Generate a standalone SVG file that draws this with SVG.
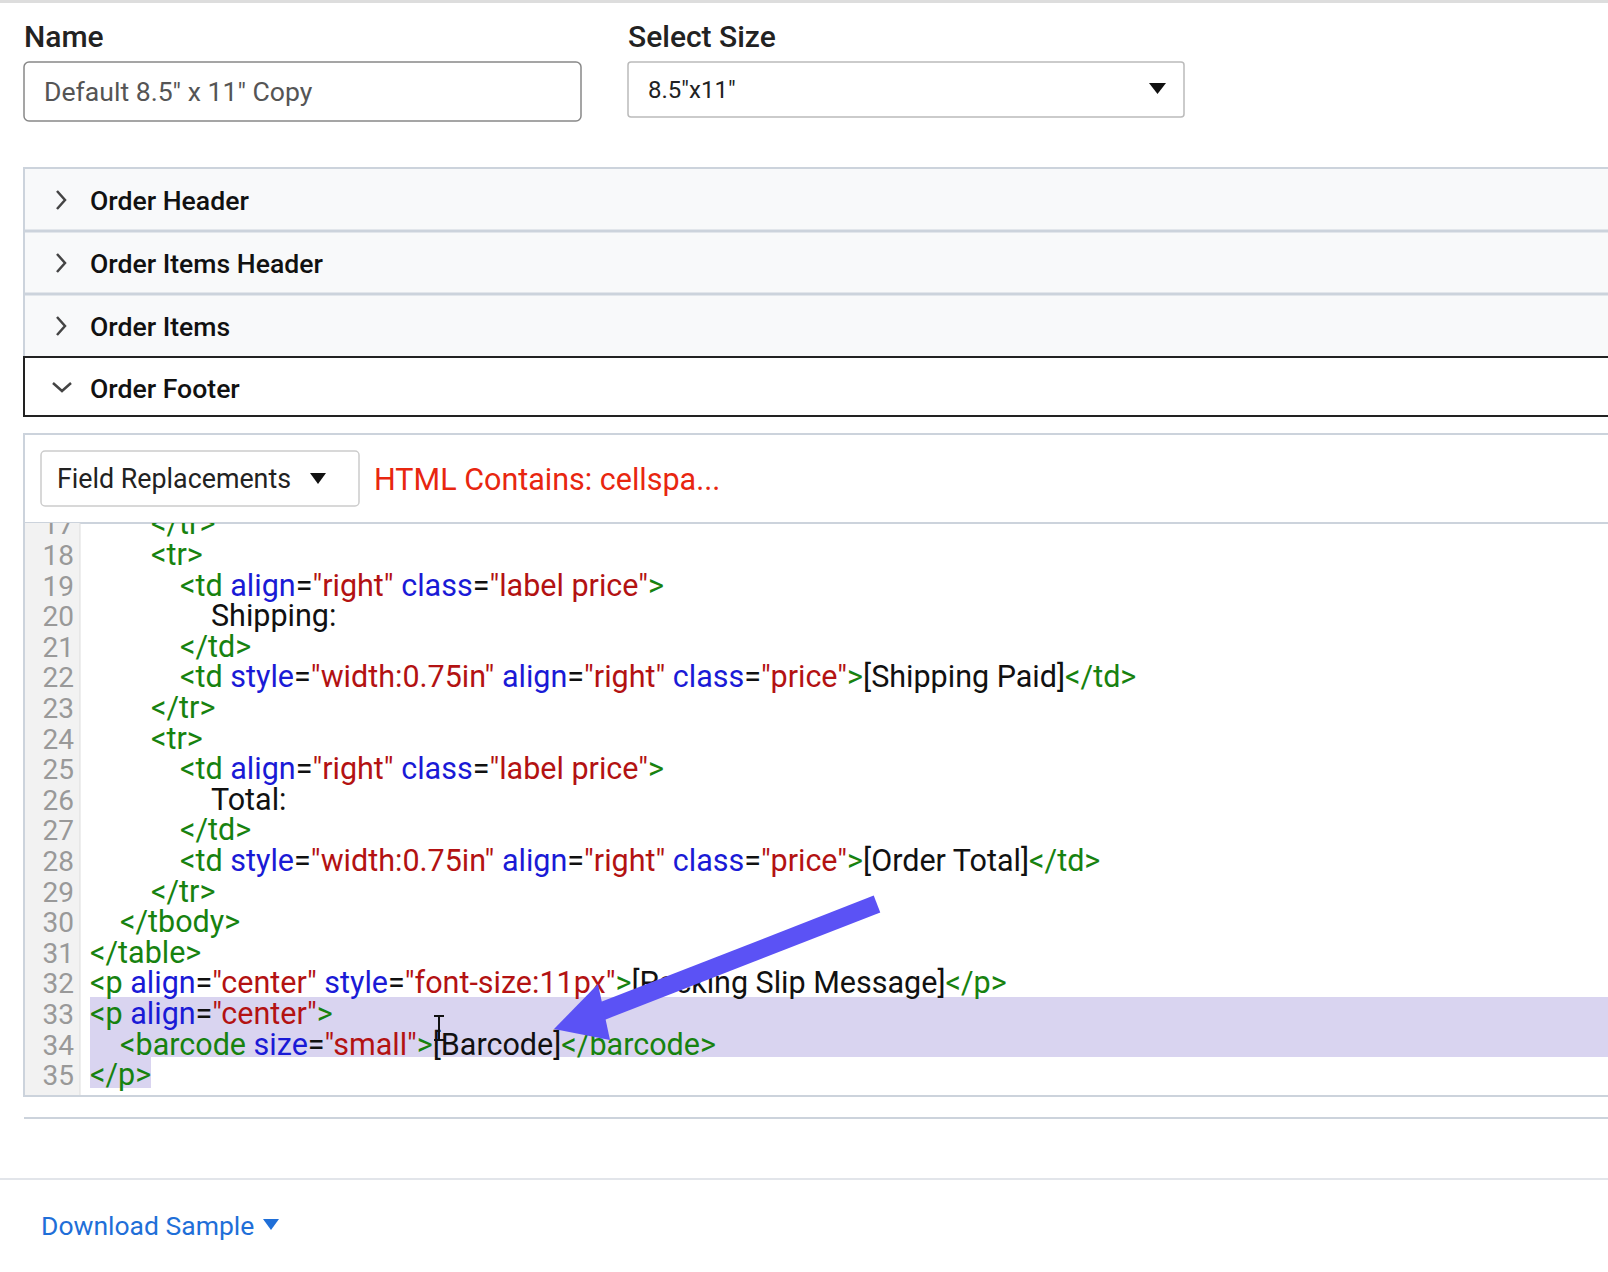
<svg xmlns="http://www.w3.org/2000/svg" width="1608" height="1272" viewBox="0 0 1608 1272">
<style>
text{font-family:Roboto,"Liberation Sans",sans-serif}
.lbl{font-size:30px;font-weight:500;fill:#222}
.acc{font-size:26.6px;font-weight:500;fill:#111}
.code{font-size:30.5px;fill:#111}
.ln{font-size:28px;fill:#999;text-anchor:end}
.g{fill:#17820f}.b{fill:#1a1ad6}.r{fill:#b31212}
.chev{fill:none;stroke:#444;stroke-width:2.5}
</style>
<defs><clipPath id="cc"><rect x="24" y="523" width="1584" height="573"/></clipPath></defs>
<rect width="1608" height="1272" fill="#fff"/>
<rect x="0" y="0" width="1608" height="3" fill="#ddd"/>
<g id="name"><text class="lbl" x="24" y="47">Name</text>
<rect x="24" y="62" width="557" height="59" rx="5" fill="#fff" stroke="#888" stroke-width="1.5"/>
<text x="44" y="101" style="font-size:26.6px;fill:#555">Default 8.5" x 11" Copy</text></g>
<g id="size"><text class="lbl" x="628" y="47">Select Size</text>
<rect x="628" y="62" width="556" height="55" rx="3" fill="#fff" stroke="#bbb" stroke-width="1.5"/>
<text x="648" y="98" style="font-size:24px;fill:#222">8.5"x11"</text>
<path d="M1149 83h17l-8.5 11z" fill="#111"/></g>
<g id="accordion">
<rect x="24" y="168" width="1600" height="189" fill="#f8f9fa" stroke="#ccd3dc" stroke-width="2"/>
<line x1="24" y1="231" x2="1608" y2="231" stroke="#ccd3dc" stroke-width="3"/>
<line x1="24" y1="294" x2="1608" y2="294" stroke="#ccd3dc" stroke-width="3"/>
<path class="chev" d="M57 191l8 9-8 9"/><text class="acc" x="90" y="210">Order Header</text>
<path class="chev" d="M57 254l8 9-8 9"/><text class="acc" x="90" y="273">Order Items Header</text>
<path class="chev" d="M57 317l8 9-8 9"/><text class="acc" x="90" y="336">Order Items</text>
<rect x="24" y="357" width="1600" height="59" fill="#fff" stroke="#222" stroke-width="2"/>
<path class="chev" d="M53 383l9 8 9-8"/><text class="acc" x="90" y="398">Order Footer</text></g>
<g id="editor">
<rect x="24" y="434" width="1600" height="662" fill="#fff" stroke="#ccd3dc" stroke-width="2"/>
<rect x="41" y="451" width="318" height="55" rx="4" fill="#fff" stroke="#ccc" stroke-width="1.5"/>
<text x="57" y="488" style="font-size:26.8px;fill:#222">Field Replacements</text>
<path d="M310 473h16l-8 11z" fill="#111"/>
<text x="374" y="490" style="font-size:30.5px;fill:#e8260f">HTML Contains: cellspa...</text>
<line x1="24" y1="523" x2="1608" y2="523" stroke="#ccd3dc" stroke-width="2"/>
<g clip-path="url(#cc)">
<rect x="25" y="523" width="55" height="572" fill="#f2f2f2"/>
<line x1="80" y1="523" x2="80" y2="1095" stroke="#ddd"/>
<rect x="90" y="997" width="1520" height="60" fill="#d9d4f0"/>
<rect x="90" y="1057" width="61" height="31" fill="#d9d4f0"/>
<g class="ln">
<text x="74" y="534">17</text><text x="74" y="565">18</text><text x="74" y="596">19</text><text x="74" y="626">20</text><text x="74" y="657">21</text><text x="74" y="687">22</text><text x="74" y="718">23</text><text x="74" y="749">24</text><text x="74" y="779">25</text><text x="74" y="810">26</text><text x="74" y="840">27</text><text x="74" y="871">28</text><text x="74" y="902">29</text><text x="74" y="932">30</text><text x="74" y="963">31</text><text x="74" y="993">32</text><text x="74" y="1024">33</text><text x="74" y="1055">34</text><text x="74" y="1085">35</text></g>
<g class="code">
<text x="151" y="534" class="g">&lt;/tr&gt;</text>
<text x="151" y="565" class="g">&lt;tr&gt;</text>
<text x="180" y="596"><tspan class="g">&lt;td </tspan><tspan class="b">align</tspan>=<tspan class="r">"right" </tspan><tspan class="b">class</tspan>=<tspan class="r">"label price"</tspan><tspan class="g">&gt;</tspan></text>
<text x="211" y="626">Shipping:</text>
<text x="180" y="657" class="g">&lt;/td&gt;</text>
<text x="180" y="687"><tspan class="g">&lt;td </tspan><tspan class="b">style</tspan>=<tspan class="r">"width:0.75in" </tspan><tspan class="b">align</tspan>=<tspan class="r">"right" </tspan><tspan class="b">class</tspan>=<tspan class="r">"price"</tspan><tspan class="g">&gt;</tspan>[Shipping Paid]<tspan class="g">&lt;/td&gt;</tspan></text>
<text x="151" y="718" class="g">&lt;/tr&gt;</text>
<text x="151" y="749" class="g">&lt;tr&gt;</text>
<text x="180" y="779"><tspan class="g">&lt;td </tspan><tspan class="b">align</tspan>=<tspan class="r">"right" </tspan><tspan class="b">class</tspan>=<tspan class="r">"label price"</tspan><tspan class="g">&gt;</tspan></text>
<text x="211" y="810">Total:</text>
<text x="180" y="840" class="g">&lt;/td&gt;</text>
<text x="180" y="871"><tspan class="g">&lt;td </tspan><tspan class="b">style</tspan>=<tspan class="r">"width:0.75in" </tspan><tspan class="b">align</tspan>=<tspan class="r">"right" </tspan><tspan class="b">class</tspan>=<tspan class="r">"price"</tspan><tspan class="g">&gt;</tspan>[Order Total]<tspan class="g">&lt;/td&gt;</tspan></text>
<text x="151" y="902" class="g">&lt;/tr&gt;</text>
<text x="120" y="932" class="g">&lt;/tbody&gt;</text>
<text x="90" y="963" class="g">&lt;/table&gt;</text>
<text x="90" y="993"><tspan class="g">&lt;p </tspan><tspan class="b">align</tspan>=<tspan class="r">"center" </tspan><tspan class="b">style</tspan>=<tspan class="r">"font-size:11px"</tspan><tspan class="g">&gt;</tspan>[Packing Slip Message]<tspan class="g">&lt;/p&gt;</tspan></text>
<text x="90" y="1024"><tspan class="g">&lt;p </tspan><tspan class="b">align</tspan>=<tspan class="r">"center"</tspan><tspan class="g">&gt;</tspan></text>
<text x="120" y="1055"><tspan class="g">&lt;barcode </tspan><tspan class="b">size</tspan>=<tspan class="r">"small"</tspan><tspan class="g">&gt;</tspan>[Barcode]<tspan class="g">&lt;/barcode&gt;</tspan></text>
<text x="90" y="1085" class="g">&lt;/p&gt;</text>
</g></g>
<path d="M434 1016h10M439 1016v24M434 1040h10" stroke="#111" stroke-width="2" fill="none"/>
</g>
<g id="connectors">
<line x1="877" y1="904" x2="600" y2="1012" stroke="#5b52f5" stroke-width="18"/>
<path d="M554 1029L598 984L610 1040Z" fill="#5b52f5"/>
</g>
<line x1="24" y1="1118" x2="1608" y2="1118" stroke="#ccd3dc" stroke-width="2"/>
<line x1="0" y1="1179" x2="1608" y2="1179" stroke="#e2e5ea" stroke-width="2"/>
<g id="download"><text x="41" y="1235" style="font-size:26.5px;fill:#1f6fd8">Download Sample</text>
<path d="M263 1219h16l-8 11z" fill="#1f6fd8"/></g>
</svg>
